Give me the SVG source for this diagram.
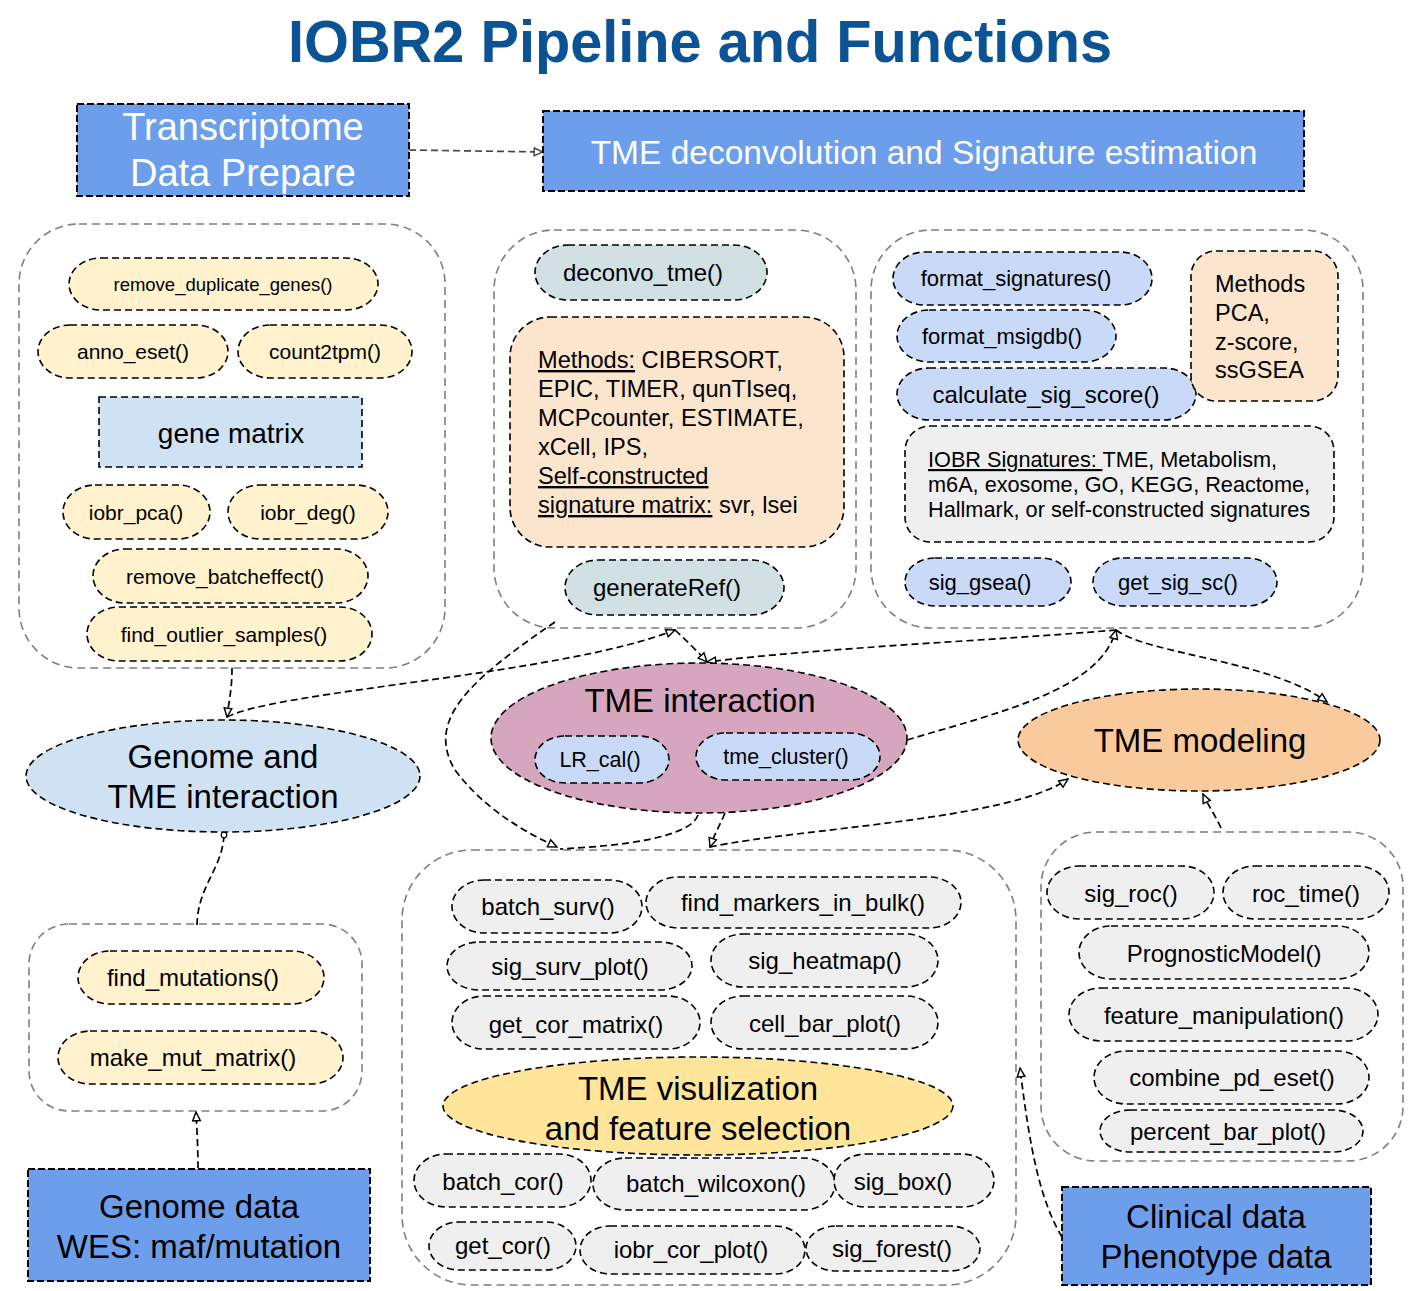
<svg xmlns="http://www.w3.org/2000/svg" width="1425" height="1291" viewBox="0 0 1425 1291">
<style>
text{font-family:"Liberation Sans",Arial,sans-serif;fill:#000}
.c{text-anchor:middle}
.cont{fill:none;stroke:#7f7f7f;stroke-width:1.6;stroke-dasharray:8 5}
.n{stroke:#000;stroke-width:1.6;stroke-dasharray:7 4}
.big{stroke:#000;stroke-width:2;stroke-dasharray:7 3;fill:#6d9eeb}
.y{fill:#fff2cc}.b{fill:#c9daf8}.g{fill:#efefef}.t{fill:#d0e0e3}.o{fill:#fce5cd}.lb{fill:#cfe2f3}
.f18{font-size:18.5px}.f21{font-size:21px}.f22{font-size:22px}.f24{font-size:24px}.f33{font-size:33px}
.e{fill:none;stroke:#000;stroke-width:1.7;stroke-dasharray:7 4}
.u{text-decoration:underline}
</style>
<defs>
<marker id="arr" viewBox="0 0 10 10" refX="9" refY="5" markerWidth="11" markerHeight="11" markerUnits="userSpaceOnUse" orient="auto"><path d="M1,1.5 L9,5 L1,8.5 Z" fill="#fff" stroke="#000" stroke-width="1.3"/></marker>
<marker id="arrg" viewBox="0 0 10 10" refX="9" refY="5" markerWidth="11" markerHeight="11" markerUnits="userSpaceOnUse" orient="auto"><path d="M1,1.5 L9,5 L1,8.5 Z" fill="#fff" stroke="#444" stroke-width="1.3"/></marker>
<marker id="dot" viewBox="0 0 10 10" refX="5" refY="5" markerWidth="8" markerHeight="8" markerUnits="userSpaceOnUse"><circle cx="5" cy="5" r="3.5" fill="#fff" stroke="#000" stroke-width="1.5"/></marker>
</defs>

<text id="title" x="700" y="62" class="c" font-size="60" font-weight="bold" style="fill:#0b5394" textLength="824" lengthAdjust="spacingAndGlyphs">IOBR2 Pipeline and Functions</text>

<g id="containers">
<rect id="cont-prepare" class="cont" x="19" y="224" width="426" height="444" rx="60"/>
<rect id="cont-deconv" class="cont" x="494" y="230" width="362" height="398" rx="60"/>
<rect id="cont-signature" class="cont" x="871" y="230" width="492" height="398" rx="60"/>
<rect id="cont-mutation" class="cont" x="29" y="924" width="333" height="187" rx="40"/>
<rect id="cont-visual" class="cont" x="402" y="850" width="614" height="435" rx="70"/>
<rect id="cont-model" class="cont" x="1041" y="832" width="362" height="329" rx="55"/>
</g>

<g id="connectors">
<path class="e" style="stroke:#444" d="M409,150 L543,152" marker-end="url(#arrg)"/>
<path class="e" d="M232,668 C232,690 229,700 227,717" marker-end="url(#arr)"/>
<path class="e" d="M227,717 C280,690 560,675 675,630" marker-end="url(#arr)"/>
<path class="e" d="M675,630 C688,642 698,652 707,662" marker-end="url(#arr)"/>
<path class="e" d="M1116,630 C1000,640 820,648 707,662" marker-end="url(#arr)"/>
<path class="e" d="M907,740 C1000,712 1100,690 1116,630" marker-end="url(#arr)"/>
<path class="e" d="M1116,630 C1150,655 1270,660 1327,702" marker-end="url(#arr)"/>
<path class="e" d="M710,847 C800,828 1010,820 1068,779" marker-end="url(#arr)"/>
<path class="e" d="M1221,828 C1215,815 1208,805 1203,794" marker-end="url(#arr)"/>
<path class="e" d="M555,622 C470,680 425,720 455,770 C485,810 525,832 557,847" marker-end="url(#arr)"/>
<path class="e" d="M698,815 C690,838 620,846 560,849"/>
<path class="e" d="M725,813 C720,825 714,835 710,847" marker-end="url(#arr)"/>
<path class="e" d="M224,835 C222,870 198,885 197,925" marker-start="url(#dot)"/>
<path class="e" d="M198,1168 C198,1150 197,1130 196,1112" marker-end="url(#arr)"/>
<path class="e" d="M1062,1237 C1040,1200 1030,1150 1020,1068" marker-end="url(#arr)"/>
</g>

<g id="n-transcriptome"><rect class="big" x="77" y="104" width="332" height="92"/><text class="c" x="243" y="140" font-size="38" style="fill:#fff">Transcriptome</text><text class="c" x="243" y="186" font-size="38" style="fill:#fff">Data Prepare</text></g>
<g id="n-tme-deconv"><rect class="big" x="543" y="111" width="761" height="80"/><text class="c" x="924" y="164" font-size="33.5" style="fill:#fff">TME deconvolution and Signature estimation</text></g>

<g id="n-remove-dup"><rect class="n y" x="69" y="258" width="309" height="52" rx="32" ry="26"/><text class="c f18" x="223" y="291">remove_duplicate_genes()</text></g>
<g id="n-anno"><rect class="n y" x="38" y="325" width="190" height="53" rx="32" ry="26.5"/><text class="c f21" x="133" y="359">anno_eset()</text></g>
<g id="n-count2tpm"><rect class="n y" x="238" y="325" width="174" height="53" rx="32" ry="26.5"/><text class="c f21" x="325" y="359">count2tpm()</text></g>
<g id="n-gene-matrix"><rect class="n lb" x="99" y="397" width="263" height="70"/><text class="c" x="231" y="443" font-size="28">gene matrix</text></g>
<g id="n-pca"><rect class="n y" x="63" y="485" width="147" height="54" rx="32" ry="27"/><text class="c f21" x="136" y="520">iobr_pca()</text></g>
<g id="n-deg"><rect class="n y" x="228" y="485" width="160" height="54" rx="32" ry="27"/><text class="c f21" x="308" y="520">iobr_deg()</text></g>
<g id="n-batch"><rect class="n y" x="93" y="549" width="275" height="54" rx="32" ry="27"/><text class="c f21" x="225" y="584">remove_batcheffect()</text></g>
<g id="n-outlier"><rect class="n y" x="87" y="607" width="285" height="54" rx="32" ry="27"/><text class="c f21" x="224" y="642">find_outlier_samples()</text></g>

<g id="n-deconvo"><rect class="n t" x="535" y="245" width="232" height="55" rx="33" ry="27.5"/><text class="c f24" x="643" y="281">deconvo_tme()</text></g>
<g id="n-methods"><rect class="n o" x="510" y="317" width="334" height="230" rx="40"/>
<text x="538" y="368" font-size="23.6"><tspan class="u">Methods:</tspan> CIBERSORT,</text>
<text x="538" y="397" font-size="23.6">EPIC, TIMER, qunTIseq,</text>
<text x="538" y="426" font-size="23.6">MCPcounter, ESTIMATE,</text>
<text x="538" y="455" font-size="23.6">xCell, IPS,</text>
<text x="538" y="484" font-size="23.6" class="u">Self-constructed</text>
<text x="538" y="513" font-size="23.6"><tspan class="u">signature matrix:</tspan> svr, lsei</text></g>
<g id="n-generateRef"><rect class="n t" x="565" y="560" width="219" height="55" rx="33" ry="27.5"/><text class="c f24" x="667" y="596">generateRef()</text></g>

<g id="n-format-sig"><rect class="n b" x="893" y="252" width="259" height="53" rx="32" ry="26.5"/><text class="c f22" x="1016" y="286">format_signatures()</text></g>
<g id="n-format-msig"><rect class="n b" x="897" y="310" width="219" height="52" rx="32" ry="26"/><text class="c f22" x="1002" y="344">format_msigdb()</text></g>
<g id="n-calc"><rect class="n b" x="897" y="368" width="299" height="52" rx="32" ry="26"/><text class="c f24" x="1046" y="403">calculate_sig_score()</text></g>
<g id="n-methods2"><rect class="n o" x="1191" y="251" width="147" height="150" rx="25"/>
<text x="1215" y="292" font-size="23.5">Methods</text><text x="1215" y="321" font-size="23.5">PCA,</text><text x="1215" y="350" font-size="23.5">z-score,</text><text x="1215" y="378" font-size="23.5">ssGSEA</text></g>
<g id="n-iobr-sig"><rect class="n g" x="905" y="426" width="429" height="116" rx="25"/>
<text x="928" y="467" font-size="21.7"><tspan class="u">IOBR Signatures: </tspan>TME, Metabolism,</text>
<text x="928" y="492" font-size="21.7">m6A, exosome, GO, KEGG, Reactome,</text>
<text x="928" y="517" font-size="21.7">Hallmark, or self-constructed signatures</text></g>
<g id="n-gsea"><rect class="n b" x="905" y="558" width="166" height="48" rx="30" ry="24"/><text class="c f22" x="980" y="590">sig_gsea()</text></g>
<g id="n-sc"><rect class="n b" x="1093" y="558" width="184" height="48" rx="30" ry="24"/><text class="c f22" x="1178" y="590">get_sig_sc()</text></g>

<g id="n-genome-tme"><ellipse class="n lb" cx="223" cy="776" rx="197" ry="56"/><text class="c f33" x="223" y="768">Genome and</text><text class="c f33" x="223" y="808">TME interaction</text></g>
<g id="n-tme-interaction"><ellipse class="n" style="fill:#d5a6bd" cx="699" cy="738" rx="208" ry="75"/><text class="c f33" x="700" y="712">TME interaction</text></g>
<g id="n-lr"><rect class="n b" x="535" y="736" width="134" height="47" rx="30" ry="23.5"/><text class="c" x="600" y="767" font-size="21.5">LR_cal()</text></g>
<g id="n-cluster"><rect class="n b" x="696" y="733" width="184" height="47" rx="30" ry="23.5"/><text class="c" x="786" y="764" font-size="21.5">tme_cluster()</text></g>
<g id="n-tme-model"><ellipse class="n" style="fill:#f9cb9c" cx="1199" cy="740" rx="181" ry="51"/><text class="c f33" x="1200" y="752">TME modeling</text></g>

<g id="n-find-mut"><rect class="n y" x="78" y="951" width="246" height="53" rx="32" ry="26.5"/><text class="c f24" x="193" y="986">find_mutations()</text></g>
<g id="n-make-mut"><rect class="n y" x="58" y="1031" width="285" height="53" rx="32" ry="26.5"/><text class="c f24" x="193" y="1066">make_mut_matrix()</text></g>
<g id="n-genome-data"><rect class="big" x="28" y="1169" width="342" height="112"/><text class="c f33" x="199" y="1218">Genome data</text><text class="c f33" x="199" y="1258">WES: maf/mutation</text></g>

<g id="n-batch-surv"><rect class="n g" x="452" y="880" width="190" height="53" rx="32" ry="26.5"/><text class="c f24" x="548" y="915">batch_surv()</text></g>
<g id="n-markers"><rect class="n g" x="646" y="877" width="315" height="51" rx="32" ry="25.5"/><text class="c f24" x="803" y="911">find_markers_in_bulk()</text></g>
<g id="n-surv-plot"><rect class="n g" x="447" y="942" width="245" height="48" rx="32" ry="24"/><text class="c f24" x="570" y="975">sig_surv_plot()</text></g>
<g id="n-heatmap"><rect class="n g" x="711" y="934" width="227" height="53" rx="32" ry="26.5"/><text class="c f24" x="825" y="969">sig_heatmap()</text></g>
<g id="n-cor-matrix"><rect class="n g" x="452" y="996" width="248" height="53" rx="32" ry="26.5"/><text class="c f24" x="576" y="1033">get_cor_matrix()</text></g>
<g id="n-cell-bar"><rect class="n g" x="711" y="996" width="227" height="53" rx="32" ry="26.5"/><text class="c f24" x="825" y="1032">cell_bar_plot()</text></g>
<g id="n-tme-vis"><ellipse class="n" style="fill:#ffe599" cx="698" cy="1106" rx="255" ry="49"/><text class="c f33" x="698" y="1100">TME visulization</text><text class="c f33" x="698" y="1140">and feature selection</text></g>
<g id="n-batch-cor"><rect class="n g" x="414" y="1154" width="177" height="53" rx="32" ry="26.5"/><text class="c f24" x="503" y="1190">batch_cor()</text></g>
<g id="n-wilcoxon"><rect class="n g" x="593" y="1158" width="242" height="52" rx="32" ry="26"/><text class="c f24" x="716" y="1192">batch_wilcoxon()</text></g>
<g id="n-box"><rect class="n g" x="834" y="1154" width="160" height="53" rx="32" ry="26.5"/><text class="c f24" x="903" y="1190">sig_box()</text></g>
<g id="n-get-cor"><rect class="n g" x="429" y="1222" width="147" height="48" rx="30" ry="24"/><text class="c f24" x="503" y="1254">get_cor()</text></g>
<g id="n-cor-plot"><rect class="n g" x="580" y="1226" width="225" height="48" rx="30" ry="24"/><text class="c f24" x="691" y="1258">iobr_cor_plot()</text></g>
<g id="n-forest"><rect class="n g" x="806" y="1226" width="174" height="45" rx="30" ry="22.5"/><text class="c f24" x="892" y="1257">sig_forest()</text></g>

<g id="n-sig-roc"><rect class="n g" x="1047" y="866" width="167" height="53" rx="32" ry="26.5"/><text class="c f24" x="1131" y="902">sig_roc()</text></g>
<g id="n-roc-time"><rect class="n g" x="1223" y="866" width="166" height="53" rx="32" ry="26.5"/><text class="c f24" x="1306" y="902">roc_time()</text></g>
<g id="n-prog"><rect class="n g" x="1079" y="926" width="290" height="53" rx="32" ry="26.5"/><text class="c f24" x="1224" y="962">PrognosticModel()</text></g>
<g id="n-feature"><rect class="n g" x="1069" y="988" width="309" height="53" rx="32" ry="26.5"/><text class="c f24" x="1224" y="1024">feature_manipulation()</text></g>
<g id="n-combine"><rect class="n g" x="1094" y="1051" width="275" height="53" rx="32" ry="26.5"/><text class="c f24" x="1232" y="1086">combine_pd_eset()</text></g>
<g id="n-percent"><rect class="n g" x="1100" y="1110" width="263" height="42" rx="30" ry="21"/><text class="c f24" x="1228" y="1140">percent_bar_plot()</text></g>
<g id="n-clinical"><rect class="big" x="1062" y="1187" width="309" height="98"/><text class="c f33" x="1216" y="1228">Clinical data</text><text class="c f33" x="1216" y="1268">Phenotype data</text></g>
</svg>
